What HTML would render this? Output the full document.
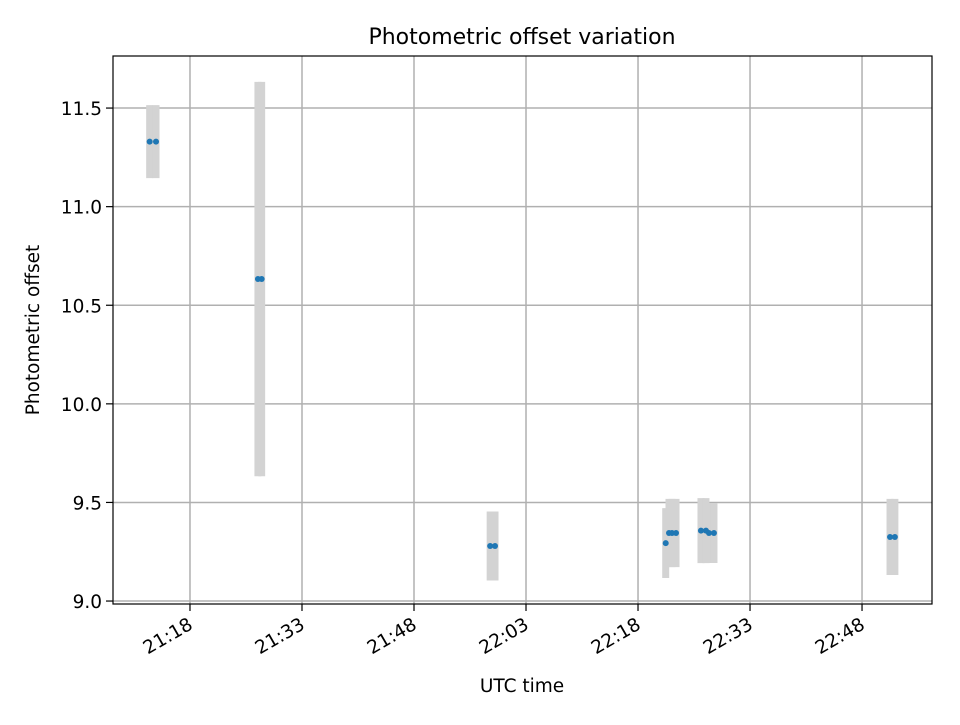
<!DOCTYPE html>
<html><head><meta charset="utf-8"><style>
html,body{margin:0;padding:0;background:#fff;}
svg text{font-family:"DejaVu Sans","Liberation Sans",sans-serif;fill:#000;}
</style></head><body>
<svg id="chart" width="960" height="720" xmlns="http://www.w3.org/2000/svg">
<rect width="960" height="720" fill="#fff"/>
<g id="grid"></g>
<g id="errs"></g>
<g id="pts"></g>
<rect x="113" y="56" width="819" height="548" fill="none" stroke="#000" stroke-width="1.2"/>
<g id="ticks"></g>
<text x="522" y="44" font-size="22" text-anchor="middle">Photometric offset variation</text>
<text x="522" y="692" font-size="18.5" text-anchor="middle">UTC time</text>
<text transform="translate(39,330) rotate(-90)" font-size="18.5" text-anchor="middle">Photometric offset</text>
</svg>
<script>
// times in minutes since midnight UTC
const times = [1272.6,1273.45,1287.1,1287.6,1318.2,1318.85,1341.71,1342.15,1342.55,1343.09,1346.43,1347.1,1347.5,1348.17,1371.75,1372.4];
const values = [11.33,11.33,10.633,10.633,9.279,9.279,9.294,9.345,9.345,9.345,9.357,9.357,9.345,9.345,9.325,9.325];
const errors = [0.185,0.185,1.0,1.0,0.175,0.175,0.177,0.173,0.173,0.173,0.165,0.165,0.152,0.152,0.193,0.193];
const xTickMinutes = [1278,1293,1308,1323,1338,1353,1368];
const xTickLabels = ["21:18","21:33","21:48","22:03","22:18","22:33","22:48"];
const yTicks = [9.0,9.5,10.0,10.5,11.0,11.5];
const yTickLabels = ["9.0","9.5","10.0","10.5","11.0","11.5"];

const L=113,R=932,T=56,B=604;
const xMin=1267.69,xMax=1377.37,yMin=8.985,yMax=11.764;
const xs=t=>L+(t-xMin)/(xMax-xMin)*(R-L);
const ys=v=>B-(v-yMin)/(yMax-yMin)*(B-T);
const NS="http://www.w3.org/2000/svg";
function mk(tag,attrs,parent){const e=document.createElementNS(NS,tag);for(const k in attrs)e.setAttribute(k,attrs[k]);parent.appendChild(e);return e;}
const grid=document.getElementById('grid'),ticks=document.getElementById('ticks'),errs=document.getElementById('errs'),pts=document.getElementById('pts');
xTickMinutes.forEach((m,i)=>{
  const x=xs(m);
  const g=mk('line',{x1:x,x2:x,y1:T,y2:B,stroke:'#b0b0b0','stroke-width':1.5},grid);
  
  
  const tk=mk('line',{x1:x,x2:x,y1:B,y2:B+7,stroke:'#000','stroke-width':1.2},ticks);
  
  
  const tx=mk('text',{transform:`translate(${x+4},${B+24}) rotate(-30)`,'font-size':18.5,'text-anchor':'end'},ticks);
  tx.textContent=xTickLabels[i];
  
  
});
yTicks.forEach((v,i)=>{
  const y=ys(v);
  const g=mk('line',{x1:L,x2:R,y1:y,y2:y,stroke:'#b0b0b0','stroke-width':1.5},grid);
  
  
  const tk=mk('line',{x1:L-7,x2:L,y1:y,y2:y,stroke:'#000','stroke-width':1.2},ticks);
  
  
  const tx=mk('text',{x:L-11,y:y+7,'font-size':18.5,'text-anchor':'end'},ticks);
  tx.textContent=yTickLabels[i];
  
  
});
times.forEach((t,i)=>{
  const x=xs(t);
  const e=mk('line',{x1:x,x2:x,y1:ys(values[i]+errors[i]),y2:ys(values[i]-errors[i]),stroke:'#d3d3d3','stroke-width':7},errs);
  
  
  const c=mk('circle',{cx:x,cy:ys(values[i]),r:3,fill:'#1f77b4'},pts);
  
  
});
</script>
</body></html>
